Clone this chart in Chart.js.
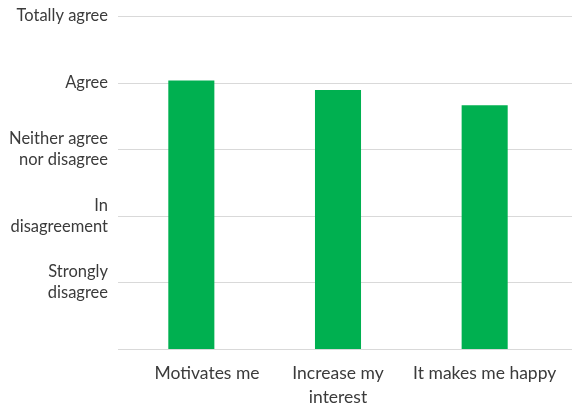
<!DOCTYPE html>
<html>
<head>
<meta charset="utf-8">
<script src="https://cdn.jsdelivr.net/npm/chart.js@4.4.1/dist/chart.umd.min.js"></script>
<style>
  html, body { margin: 0; padding: 0; background: #fff; }
  #wrap { width: 572px; height: 406px; position: relative; }
</style>
</head>
<body>
<div id="wrap"><canvas id="likertChart"></canvas></div>
<script>
// survey answers, mean score on a 0..5 scale
const categories = [['Motivates me'], ['Increase my', 'interest'], ['It makes me happy']];
const scores = [4.03, 3.89, 3.66];
const scaleLabels = {
    1: ['Strongly', 'disagree'],
    2: ['In', 'disagreement'],
    3: ['Neither agree', 'nor disagree'],
    4: ['Agree'],
    5: ['Totally agree']
};

const textColor = '#3b3b3b';
const gridColor = '#d9d9d9';
// first category label sits a bit right of its bar
const firstLabelIndent = '       ';

// horizontal grid lines run past the plot to the right edge of the canvas
const fullGrid = {
    id: 'fullGrid',
    beforeDatasetsDraw(chart) {
        const ctx = chart.ctx;
        const y = chart.scales.y;
        const left = chart.chartArea.left;
        ctx.save();
        ctx.strokeStyle = gridColor;
        ctx.lineWidth = 1;
        y.ticks.forEach(t => {
            const py = Math.round(y.getPixelForValue(t.value)) + 0.5;
            ctx.beginPath();
            ctx.moveTo(left, py);
            ctx.lineTo(chart.width, py);
            ctx.stroke();
        });
        ctx.restore();
    }
};

new Chart(document.getElementById('likertChart'), {
    type: 'bar',
    data: {
        labels: categories,
        datasets: [{
            data: scores,
            backgroundColor: '#00b050',
            barPercentage: 0.314,
            categoryPercentage: 1
        }]
    },
    options: {
        responsive: true,
        maintainAspectRatio: false,
        animation: false,
        layout: { padding: { top: 16, right: 14, left: 0, bottom: 0 } },
        plugins: { legend: { display: false }, tooltip: { enabled: false } },
        scales: {
            x: {
                grid: { display: false },
                border: { display: false },
                ticks: {
                    color: textColor,
                    font: { family: 'Lato', size: 17.5, lineHeight: 1.35 },
                    padding: 5,
                    maxRotation: 0,
                    autoSkip: false,
                    callback: function (v, i) {
                        const lbl = categories[i];
                        return i === 0 ? [firstLabelIndent + lbl[0]] : lbl;
                    }
                },
                afterFit: s => { s.height = 57; }
            },
            y: {
                min: 0,
                max: 5,
                grid: { display: false, drawTicks: false },
                border: { display: false },
                ticks: {
                    stepSize: 1,
                    color: textColor,
                    font: { family: 'Lato', size: 16.5, lineHeight: 1.28 },
                    padding: 10,
                    callback: v => scaleLabels[v] || ''
                },
                afterFit: s => { s.width = 118; s.paddingTop = 0; }
            }
        }
    },
    plugins: [fullGrid]
});
</script>
</body>
</html>
